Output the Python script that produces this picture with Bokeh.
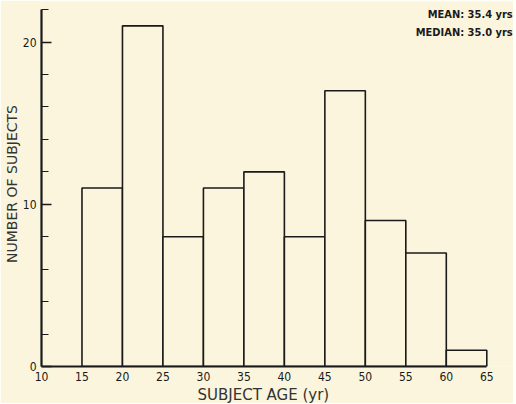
from bokeh.plotting import figure
from bokeh.models import FixedTicker, Label, Title
from bokeh.embed import file_html
from bokeh.resources import INLINE

# Data
bin_left = [15, 20, 25, 30, 35, 40, 45, 50, 55, 60]
bin_right = [20, 25, 30, 35, 40, 45, 50, 55, 60, 65]
counts = [11, 21, 8, 11, 12, 8, 17, 9, 7, 1]
x_ticks = [10, 15, 20, 25, 30, 35, 40, 45, 50, 55, 60, 65]
y_ticks = [0, 10, 20]
y_minor = [2, 4, 6, 8, 12, 14, 16, 18, 22]
x_label = "SUBJECT AGE (yr)"
y_label = "NUMBER OF SUBJECTS"
mean_text = "MEAN: 35.4 yrs"
median_text = "MEDIAN: 35.0 yrs"

FONT = "DejaVu Sans Condensed"
LFONT = "DejaVu Sans"
BG = "#FAF5DC"
INK = "#1a1a1a"

p = figure(frame_width=472, frame_height=365, x_range=(10, 68.3), y_range=(0, 22.5),
           output_backend="svg", toolbar_location=None,
           min_border_left=34, min_border_right=0, min_border_top=1, min_border_bottom=34)
p.background_fill_color = BG
p.border_fill_color = BG
p.outline_line_color = None
p.grid.grid_line_color = None

p.quad(left=bin_left, right=bin_right, top=counts, bottom=0,
       fill_color=BG, line_color=INK, line_width=1.6)

# y axis
ya = p.yaxis[0]
ya.bounds = (0, 22)
ya.ticker = FixedTicker(ticks=y_ticks, minor_ticks=y_minor)
ya.axis_line_width = 2.2
ya.axis_line_color = INK
ya.major_tick_in = 10
ya.major_tick_out = 0
ya.minor_tick_in = 7
ya.minor_tick_out = 0
ya.major_tick_line_width = 1.5
ya.minor_tick_line_width = 1.2
ya.major_tick_line_color = INK
ya.minor_tick_line_color = INK
ya.major_label_text_font = FONT
ya.major_label_text_font_size = "12px"
ya.major_label_text_color = INK
ya.major_label_standoff = 5
ya.axis_label = y_label
ya.axis_label_text_font = LFONT
ya.axis_label_text_font_style = "normal"
ya.axis_label_text_font_size = "14px"
ya.axis_label_text_color = "#333333"
ya.axis_label_standoff = 0

# x axis
xa = p.xaxis[0]
xa.bounds = (10, 65)
xa.ticker = FixedTicker(ticks=x_ticks)
xa.axis_line_width = 2.2
xa.axis_line_color = INK
xa.major_tick_in = 0
xa.major_tick_out = 0
xa.minor_tick_line_color = None
xa.major_label_text_font = FONT
xa.major_label_text_font_size = "12px"
xa.major_label_text_color = INK
xa.major_label_standoff = 5

# x axis label, centred under the 10-65 axis span
p.add_layout(Title(text=x_label, align="left", offset=156, standoff=0,
                   text_font=LFONT, text_font_style="normal", text_font_size="15px",
                   text_color="#333333", background_fill_color=None), "below")

for i, t in enumerate([mean_text, median_text]):
    p.add_layout(Label(x=68.2, y=22.1 - i * 1.1, text=t, text_align="right",
                       text_baseline="top", text_font=FONT, text_font_size="11px",
                       text_font_style="bold", text_color=INK))

open("out.html", "w").write(file_html(p, INLINE))
